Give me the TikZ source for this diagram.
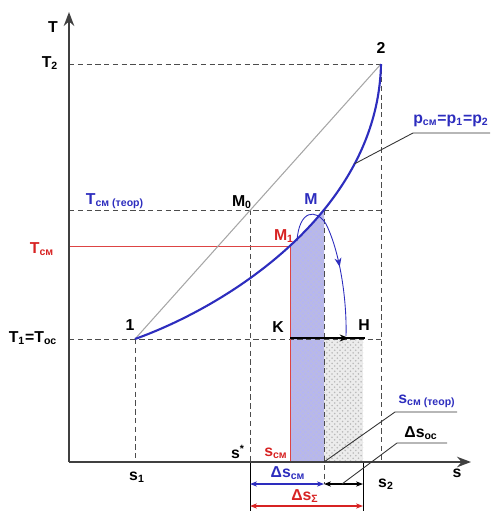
\documentclass[tikz,border=0pt]{standalone}
\usepackage{fontspec}
\setmainfont{Liberation Sans}
\usetikzlibrary{arrows.meta,positioning,patterns,decorations.markings}

\definecolor{isoblue}{RGB}{45,45,190}
\definecolor{mixred}{RGB}{215,35,35}
\definecolor{areablue}{RGB}{185,185,230}

\begin{document}
\begin{tikzpicture}[
    x=0.02cm, y=-0.02cm,
    >=Stealth,
    every node/.style={font=\bfseries\fontsize{9}{10}\selectfont, inner sep=1pt},
    guide/.style={densely dashed, gray!60!black, line width=0.5pt},
    axis/.style={->, gray!50!black, line width=1.1pt},
    leader/.style={gray!40!black, line width=0.5pt},
    dimline/.style={<->, >={Stealth[length=4pt,width=3pt]}, line width=0.6pt},
    midarrow/.style={postaction={decorate}, decoration={markings,
        mark=at position #1 with {\arrow{Stealth[length=5pt,width=4pt]}}}}
]
\useasboundingbox (0,0) rectangle (493,511);

% points of the diagram
\coordinate (O)  at (69,462);
\coordinate (p1) at (135,339);
\coordinate (p2) at (381,64);
\coordinate (M0) at (250,210);
\coordinate (M)  at (324,210);
\coordinate (M1) at (290,246);
\coordinate (K)  at (290,338);
\coordinate (H)  at (365,338);
\coordinate (E)  at (363,338);

% areas
\begin{scope}
  \clip (M1 |- O) rectangle (M |- p2);
  \fill[areablue] (p1) .. controls (230,305) and (378,210) .. (p2) -- (p2 |- O) -- (p1 |- O) -- cycle;
  \fill[pattern=crosshatch dots, pattern color=blue!30!white] (p1) .. controls (230,305) and (378,210) .. (p2) -- (p2 |- O) -- (p1 |- O) -- cycle;
\end{scope}
\fill[gray!15] (M |- K) rectangle (E |- O);
\fill[pattern=crosshatch dots, pattern color=gray!55] (M |- K) rectangle (E |- O);

% guide lines
\draw[guide] (O |- p2) -- (p2) -- (p2 |- O);
\draw[guide] (O |- M0) -- (p2 |- M0);
\draw[guide] (O |- p1) -- (p2 |- p1);
\draw[guide] (p1) -- (p1 |- O);
\draw[guide] (M0) -- (M0 |- O);
\draw[guide] (M) -- (324,484);
\draw[line width=0.5pt] (M0 |- O) -- (250,511);
\draw[line width=0.5pt] (E |- O) -- (363,511);

% T_cm and M1
\draw[mixred!85, line width=0.5pt] (O |- M1) -- (M1) -- (M1 |- O);

% axes
\draw[axis] (O) -- (69,12);
\draw[axis] (O) -- (471,462);

% straight line and isobar
\draw[gray!70, line width=0.6pt] (p1) -- (p2);
\draw[isoblue, line width=1.2pt] (p1) .. controls (230,305) and (378,210) .. coordinate[pos=0.75] (pc) (p2);

% process lines
\draw[isoblue, line width=0.5pt, midarrow=0.58] (297,241) .. controls (299,210) and (316,208) .. (326,224)
    .. controls (340,252) and (347,300) .. (346,336);
\draw[line width=1pt, midarrow=0.78] (K) -- (H);

% dimensions
\draw[dimline, isoblue] (250,484) -- (324,484);
\draw[dimline] (324,484) -- (363,484);
\draw[dimline, mixred] (250,506) -- (363,506);

% leaders
\draw[leader] (pc) -- (413,133) -- (490,133);
\draw[leader] (M |- O) -- (395,412) -- (457,412);
\draw[leader] (342,484) -- (397,443) -- (447,443);

% labels
\node (lT)    at (53,27)  {T};
\node (lT2)   at (50,63)  {T\textsubscript{2}};
\node[isoblue] (lTth) at (115,201) {T\textsubscript{см (теор)}};
\node[mixred] (lTcm)  at (42,249) {T\textsubscript{см}};
\node (lT1)   at (33,338) {T\textsubscript{1}=T\textsubscript{ос}};
\node (l1)    at (130,325) {1};
\node (l2)    at (381,48) {2};
\node (lM0)   at (242,202) {M\textsubscript{0}};
\node[isoblue] (lM) at (311,199) {M};
\node[mixred] (lM1) at (284,236) {M\textsubscript{1}};
\node (lK)    at (278,327) {K};
\node (lH)    at (364,325) {H};
\node[isoblue] (lp) at (451,121) {p\textsubscript{см}=p\textsubscript{1}=p\textsubscript{2}};
\node[isoblue] (lsth) at (427,401) {s\textsubscript{см (теор)}};
\node (lsoc)  at (421,433) {Δs\textsubscript{ос}};
\node (ls1)   at (137,477) {s\textsubscript{1}};
\node (lsst)  at (238,452) {s\textsuperscript{*}};
\node[mixred] (lscm) at (276,453) {s\textsubscript{см}};
\node (ls2)   at (386,484) {s\textsubscript{2}};
\node (ls)    at (457,473) {s};
\node[isoblue] (ldcm) at (288,473) {Δs\textsubscript{см}};
\node[mixred] (ldS)  at (305,496) {Δs\textsubscript{Σ}};
\end{tikzpicture}
\end{document}
